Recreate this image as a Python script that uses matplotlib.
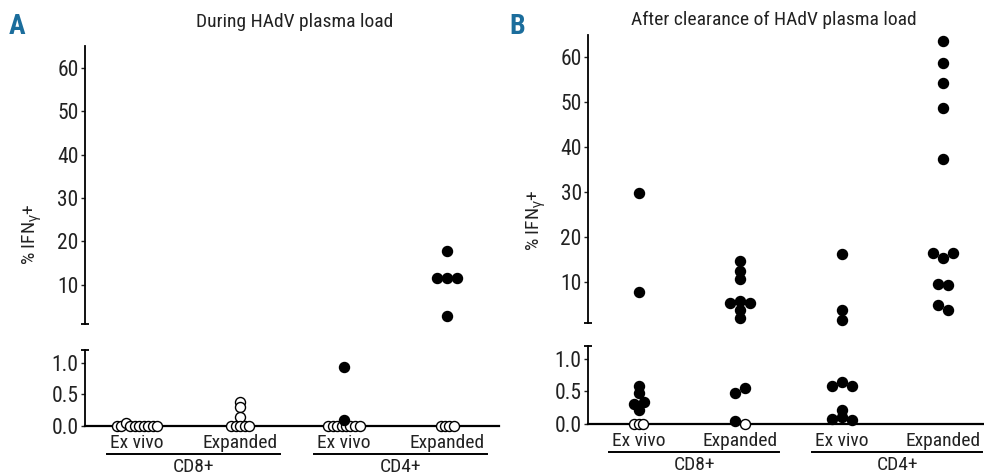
import matplotlib

matplotlib.use("Agg")
import matplotlib.pyplot as plt
from matplotlib.transforms import blended_transform_factory, offset_copy

plt.rcParams["font.family"] = ["Roboto Condensed", "DejaVu Sans Condensed",
                               "Liberation Sans Narrow", "Liberation Sans"]
plt.rcParams["mathtext.fontset"] = "custom"
plt.rcParams["mathtext.rm"] = "Liberation Sans"
plt.rcParams["mathtext.it"] = "Liberation Sans"

W, H = 984, 474

CATEGORIES = ["Ex vivo", "Expanded", "Ex vivo", "Expanded"]
GROUPS = ["CD8+", "CD4+"]
TITLES = ["During HAdV plasma load", "After clearance of HAdV plasma load"]
UPPER_TICKS = [10, 20, 30, 40, 50, 60]
LOWER_TICKS = [0.0, 0.5, 1.0]

# % IFN-gamma+ per category (CD8 ex vivo, CD8 expanded, CD4 ex vivo, CD4 expanded)
during_values = [
    [0, 0, 0.04, 0, 0, 0, 0, 0, 0, 0],
    [0.38, 0.29, 0.14, 0, 0, 0, 0, 0],
    [0.93, 0.09, 0, 0, 0, 0, 0, 0, 0, 0],
    [17.9, 11.5, 11.5, 11.5, 2.9, 0, 0, 0, 0],
]
during_filled = [
    [False, False, False, False, False, False, False, False, False, False],
    [False, False, False, False, False, False, False, False],
    [True, True, False, False, False, False, False, False, False, False],
    [True, True, True, True, True, False, False, False, False],
]
after_values = [
    [29.8, 7.8, 0.58, 0.47, 0.31, 0.34, 0.22, 0, 0, 0],
    [14.8, 12.4, 10.8, 5.4, 5.8, 5.4, 3.8, 2.1, 0.48, 0.55, 0.04, 0],
    [16.2, 3.8, 1.6, 0.58, 0.64, 0.58, 0.22, 0.08, 0.11, 0.06],
    [63.6, 58.8, 54.3, 48.7, 37.4, 16.5, 15.3, 16.5, 9.7, 9.3, 5.0, 3.8],
]
after_filled = [
    [True, True, True, True, True, True, True, False, False, False],
    [True, True, True, True, True, True, True, True, True, True, True, False],
    [True, True, True, True, True, True, True, True, True, True],
    [True, True, True, True, True, True, True, True, True, True, True, True],
]

BREAK = 1.2
DOT_PX = 10.0
BLUE = "#1b6d9c"
TEXT = "#222222"


def px_box(left, top, right, bottom):
    return [left / W, 1 - bottom / H, (right - left) / W, (bottom - top) / H]


def swarm_offsets(ax, values, filled):
    # group points into rows by pixel height, spread each row sideways
    ys = [ax.transData.transform((0, v))[1] for v in values]
    x_px = ax.transData.transform((1, 0))[0] - ax.transData.transform((0, 0))[0]
    rows = []
    for i, y in enumerate(ys):
        if rows and abs(y - ys[rows[-1][0]]) <= 0.55 * DOT_PX:
            rows[-1].append(i)
        else:
            rows.append([i])
    offsets = [0.0] * len(values)
    for row in rows:
        step = DOT_PX
        if len(row) >= 3 and not all(filled[j] for j in row):
            step = 0.45 * DOT_PX
        for k, j in enumerate(row):
            offsets[j] = (k - (len(row) - 1) / 2) * step / x_px
    return offsets


def draw_points(ax, values, filled):
    for i, (vals, fl) in enumerate(zip(values, filled)):
        if not vals:
            continue
        offs = swarm_offsets(ax, vals, fl)
        for off, v, f in sorted(zip(offs, vals, fl), key=lambda t: t[2]):
            ax.scatter(i + off, v, s=52, marker="o",
                       facecolor="black" if f else "white",
                       edgecolor="black", linewidth=1.0,
                       zorder=4 if f else 3, clip_on=False)


def cap(ax, y):
    ax.plot([0], [y], marker="_", markersize=6, markeredgewidth=1.3,
            color="black", transform=ax.transAxes, clip_on=False)


def make_panel(fig, upper_box, lower_box, xmax, values, filled, title, title_xy,
               letter, letter_xy, ylabel_xy):
    up = fig.add_axes(px_box(*upper_box))
    lo = fig.add_axes(px_box(*lower_box))
    for ax in (up, lo):
        ax.set_xlim(-0.5, xmax)
        for side in ("top", "right", "bottom"):
            ax.spines[side].set_visible(False)
        ax.spines["left"].set_linewidth(1.3)
        ax.tick_params(axis="y", length=3, width=1.0, pad=1.5, labelsize=15.5,
                       colors=TEXT)
        ax.tick_params(axis="x", length=0, labelbottom=False)
        ax.patch.set_alpha(0)
    up.set_ylim(1, 65)
    up.set_yticks(UPPER_TICKS)
    lo.set_ylim(0, BREAK)
    lo.set_yticks(LOWER_TICKS, [f"{t:.1f}" for t in LOWER_TICKS])
    lo.spines["bottom"].set_visible(True)
    lo.spines["bottom"].set_linewidth(1.6)
    cap(up, 0)
    cap(lo, 1)

    up_vals = [[v for v in vals if v > BREAK] for vals in values]
    up_fill = [[f for v, f in zip(vals, fl) if v > BREAK] for vals, fl in zip(values, filled)]
    lo_vals = [[v for v in vals if v <= BREAK] for vals in values]
    lo_fill = [[f for v, f in zip(vals, fl) if v <= BREAK] for vals, fl in zip(values, filled)]
    draw_points(up, up_vals, up_fill)
    draw_points(lo, lo_vals, lo_fill)

    base = blended_transform_factory(lo.transData, lo.transAxes)
    t_cat = offset_copy(base, fig=fig, y=-17, units="dots")
    t_line = offset_copy(base, fig=fig, y=-28, units="dots")
    t_grp = offset_copy(base, fig=fig, y=-41, units="dots")
    for i, name in enumerate(CATEGORIES):
        lo.text(i, 0, name, transform=t_cat, ha="center", va="center",
                fontsize=14, color=TEXT)
    for g, name in enumerate(GROUPS):
        x0, x1 = 2 * g - 0.29, 2 * g + 1.38
        lo.plot([x0, x1], [0, 0], color="black", linewidth=1.4,
                transform=t_line, clip_on=False)
        lo.text((x0 + x1) / 2, 0, name, transform=t_grp, ha="center",
                va="center", fontsize=14, color=TEXT)

    fig.text(title_xy[0] / W, 1 - title_xy[1] / H, title, ha="center",
             va="center", fontsize=14, color=TEXT)
    fig.text(letter_xy[0] / W, 1 - letter_xy[1] / H, letter, ha="center",
             va="center", fontsize=20, fontweight="bold", color=BLUE)
    fig.text(ylabel_xy[0] / W, 1 - ylabel_xy[1] / H, r"% IFN$_{\gamma}$+",
             rotation=90, ha="center", va="center", fontsize=14, color=TEXT)


def main():
    fig = plt.figure(figsize=(W / 100, H / 100), dpi=100)
    make_panel(fig, (85, 46, 499, 324), (85, 350, 499, 425.7), 3.5,
               during_values, during_filled, TITLES[0], (295, 22),
               "A", (17, 27), (32, 234))
    make_panel(fig, (588, 35, 984, 322.7), (588, 345.7, 984, 424), 3.4,
               after_values, after_filled, TITLES[1], (774, 20),
               "B", (517, 27), (536, 220))
    fig.savefig("out.png", dpi=100)
    plt.close(fig)


if __name__ == "__main__":
    main()
